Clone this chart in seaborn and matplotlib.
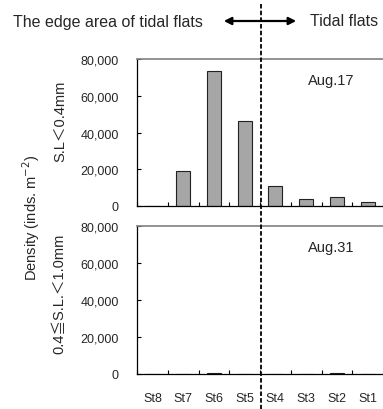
import numpy as np
import pandas as pd
import matplotlib
matplotlib.use("Agg")
import matplotlib.pyplot as plt
from matplotlib.lines import Line2D
from matplotlib.patches import FancyArrowPatch
import seaborn as sns

stations = ["St8", "St7", "St6", "St5", "St4", "St3", "St2", "St1"]
aug17 = [0, 19000, 73200, 46000, 10700, 3700, 4700, 2000]
aug31 = [0, 0, 300, 0, 0, 0, 300, 0]
yticks = [0, 20000, 40000, 60000, 80000]
ytick_labels = ["0", "20,000", "40,000", "60,000", "80,000"]

sns.set_theme(style="white")
plt.rcParams["font.family"] = ["Liberation Sans", "Noto Sans CJK JP", "DejaVu Sans"]

W, H = 383, 410
fig = plt.figure(figsize=(W / 100, H / 100), dpi=100)

def px_axes(x0, y0, x1, y1):
    return fig.add_axes([x0 / W, 1 - y1 / H, (x1 - x0) / W, (y1 - y0) / H])

ax1 = px_axes(137, 60, 383, 207)
ax2 = px_axes(137, 227, 383, 375)

panels = [(ax1, aug17, "Aug.17", "S.L＜0.4mm", 0.58),
          (ax2, aug31, "Aug.31", "0.4≦S.L.＜1.0mm", 0.55)]

for ax, vals, tag, lab, ly in panels:
    df = pd.DataFrame({"station": stations, "density": vals})
    sns.barplot(data=df, x="station", y="density", ax=ax, color="#a6a6a6",
                edgecolor="#222222", linewidth=0.8, width=0.45, saturation=1)
    ax.set_xlim(-0.5, 7.5)
    ax.set_ylim(0, 80000)
    ax.set_yticks(yticks)
    ax.set_yticklabels(ytick_labels, fontsize=9)
    ax.set_xticks(np.arange(-0.5, 8.0, 1.0), minor=True)
    ax.tick_params(axis="x", which="minor", direction="in", length=3, width=0.8,
                   color="black", bottom=True)
    ax.tick_params(axis="x", which="major", length=0, pad=13, labelsize=9)
    ax.tick_params(axis="y", direction="in", length=3, width=0.8, color="black",
                   left=True, pad=13)
    for s in ["left", "bottom"]:
        ax.spines[s].set_color("black")
        ax.spines[s].set_linewidth(0.9)
    ax.spines["right"].set_visible(False)
    ax.spines["top"].set_color("#808080")
    ax.spines["top"].set_linewidth(1.2)
    ax.set_xlabel("")
    ax.set_ylabel(lab, fontsize=10.5)
    ax.yaxis.set_label_coords(-0.285, ly)
    ax.text(0.79, 0.86, tag, transform=ax.transAxes, ha="center", va="center",
            fontsize=10.5)

ax1.set_xticklabels([])
ax1.tick_params(axis="x", which="major", labelbottom=False)

fig.text(31 / W, 1 - 218 / H, "Density (inds. m$^{-2}$)", rotation=90,
         ha="center", va="center", fontsize=10.5)

# dashed divider
fig.add_artist(Line2D([261 / W, 261 / W], [1 - 5 / H, 0], transform=fig.transFigure,
                      color="black", linestyle=(0, (2.5, 1.2)), linewidth=1.3))

# arrow and region labels
fig.add_artist(FancyArrowPatch(
    (221 / W, 1 - 22 / H), (299 / W, 1 - 22 / H), transform=fig.transFigure,
    arrowstyle="<|-|>", mutation_scale=11, color="black", linewidth=1.6))
fig.text(13 / W, 1 - 22 / H, "The edge area of tidal flats", ha="left",
         va="center", fontsize=11.5)
fig.text(310 / W, 1 - 22 / H, "Tidal flats", ha="left", va="center", fontsize=11.5)

fig.savefig("out.png", dpi=100)
